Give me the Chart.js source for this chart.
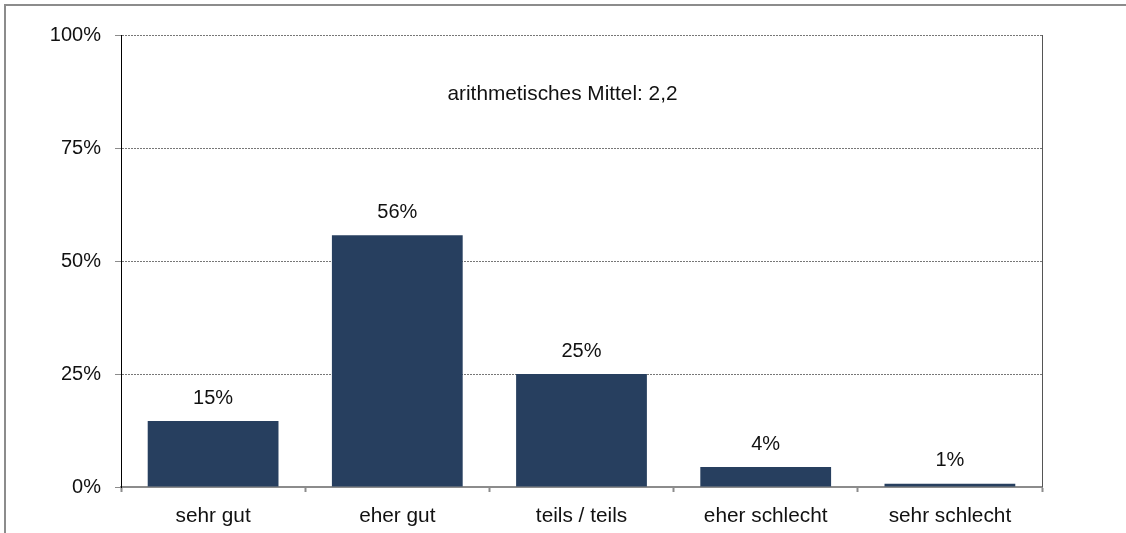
<!DOCTYPE html>
<html>
<head>
<meta charset="utf-8">
<script src="https://cdn.jsdelivr.net/npm/chart.js@4"></script>
<style>
    html, body { margin: 0; padding: 0; background: #ffffff; }
    #wrap { position: relative; width: 1126px; height: 533px; }
    #frame {
        position: absolute; left: 4px; top: 4px; right: -10px; bottom: -10px;
        border-top: 2px solid #8c8c8c; border-left: 2px solid #8c8c8c;
        pointer-events: none;
    }
</style>
</head>
<body>
<div id="wrap">
    <canvas id="bar-chart" width="1126" height="533"></canvas>
    <div id="frame"></div>
</div>
<script>
// Antwortkategorien und Anteile (in %)
const categories = ['sehr gut', 'eher gut', 'teils / teils', 'eher schlecht', 'sehr schlecht'];
const shares = [14.6, 55.7, 25.0, 4.4, 0.7];
const yTicks = [0, 25, 50, 75, 100];
const meanNote = 'arithmetisches Mittel: 2,2';

const FONT = '"Liberation Sans", Arial, sans-serif';

// Draws value labels above the bars, the right frame line and the mean note
const extrasPlugin = {
    id: 'extras',
    afterDatasetsDraw(chart) {
        const ctx = chart.ctx;
        const area = chart.chartArea;
        const y = chart.scales.y;

        ctx.save();
        // right border of plot area
        ctx.strokeStyle = '#555555';
        ctx.lineWidth = 1;
        ctx.beginPath();
        ctx.moveTo(area.right + 0.5, area.top);
        ctx.lineTo(area.right + 0.5, area.bottom);
        ctx.stroke();

        // value labels
        ctx.fillStyle = '#111111';
        ctx.font = '20px ' + FONT;
        ctx.textAlign = 'center';
        ctx.textBaseline = 'middle';
        const meta = chart.getDatasetMeta(0);
        meta.data.forEach((bar, i) => {
            ctx.fillText(Math.round(shares[i]) + '%', bar.x, bar.y - 23);
        });

        // mean note
        ctx.font = '20.8px ' + FONT;
        ctx.fillText(meanNote, (area.left + area.right) / 2 - 19, y.getPixelForValue(87));
        ctx.restore();
    }
};

new Chart(document.getElementById('bar-chart'), {
    type: 'bar',
    data: {
        labels: categories,
        datasets: [{
            data: shares,
            backgroundColor: '#273f5f',
            borderWidth: 0,
            barPercentage: 0.71,
            categoryPercentage: 1.0
        }]
    },
    options: {
        responsive: false,
        animation: false,
        layout: {
            padding: { left: 0, right: 84, top: 35, bottom: 0 }
        },
        plugins: {
            legend: { display: false },
            tooltip: { enabled: false }
        },
        scales: {
            x: {
                offset: true,
                grid: {
                    offset: true,
                    drawOnChartArea: false,
                    drawTicks: true,
                    tickLength: 5,
                    tickColor: '#8c8c8c',
                    tickWidth: 2
                },
                border: { color: '#8c8c8c', width: 2 },
                ticks: {
                    color: '#111111',
                    padding: 12,
                    font: { family: FONT, size: 20.8 }
                },
                afterFit(scale) { scale.height = 46; }
            },
            y: {
                min: 0,
                max: 100,
                afterBuildTicks(scale) {
                    scale.ticks = yTicks.map(v => ({ value: v }));
                },
                grid: {
                    color: ctx => ctx.tick && ctx.tick.value === 0 ? 'rgba(0,0,0,0)' : '#777777',
                    lineWidth: 1,
                    drawTicks: true,
                    tickLength: 6,
                    tickColor: '#8c8c8c',
                    tickBorderDash: []
                },
                border: { color: '#000000', width: 1, dash: [2, 1] },
                ticks: {
                    color: '#111111',
                    padding: 14,
                    font: { family: FONT, size: 20 },
                    callback: v => v + '%'
                },
                afterFit(scale) { scale.width = 121; }
            }
        }
    },
    plugins: [extrasPlugin]
});
</script>
</body>
</html>
